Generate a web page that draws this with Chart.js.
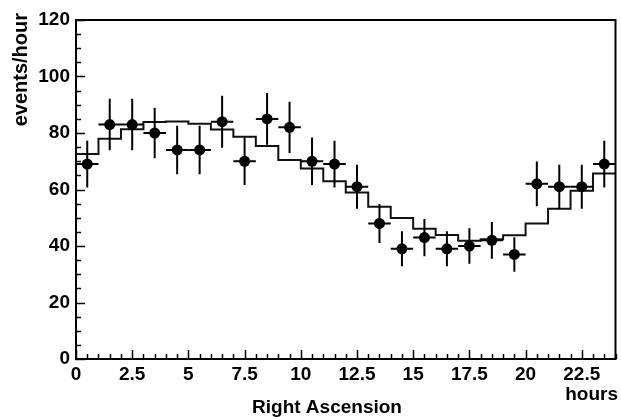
<!DOCTYPE html>
<html>
<head>
<meta charset="utf-8">
<script src="https://cdn.jsdelivr.net/npm/chart.js@4/dist/chart.umd.min.js"></script>
<style>
  html, body { margin: 0; padding: 0; background: #fff; }
  #c { display: block; }
</style>
</head>
<body>
<canvas id="c" width="621" height="419"></canvas>
<script>
// bin centres (hours) and measured rates
var binCenters = [0.5, 1.5, 2.5, 3.5, 4.5, 5.5, 6.5, 7.5, 8.5, 9.5, 10.5, 11.5,
                  12.5, 13.5, 14.5, 15.5, 16.5, 17.5, 18.5, 19.5, 20.5, 21.5, 22.5, 23.5];
var rates = [69, 83, 83, 80, 74, 74, 84, 70, 85, 82, 70, 69,
             61, 48, 39, 43, 39, 40, 42, 37, 62, 61, 61, 69];
var rateErrors = [8.3, 9.1, 9.1, 8.9, 8.6, 8.6, 9.2, 8.4, 9.2, 9.1, 8.4, 8.3,
                  7.8, 6.9, 6.2, 6.6, 6.2, 6.3, 6.5, 6.1, 7.9, 7.8, 7.8, 8.3];
var binHalfWidth = 0.5;

// expected rate histogram (bin edges + contents)
var binEdges = [0, 1, 2, 3, 4, 5, 6, 7, 8, 9, 10, 11, 12,
                13, 14, 15, 16, 17, 18, 19, 20, 21, 22, 23, 24];
var expected = [72.6, 78, 81.3, 83.9, 84.1, 83.3, 81.2, 78.7, 75.4, 70.4, 67.4, 62.9,
                58.9, 53.9, 49.9, 46.1, 43.9, 41.9, 42.4, 43.8, 48, 53.2, 59.6, 65.7];

var xTicks = [0, 2.5, 5, 7.5, 10, 12.5, 15, 17.5, 20, 22.5];
var yTicks = [0, 20, 40, 60, 80, 100, 120];

var xTitle = 'Right Ascension';
var xUnit = 'hours';
var yTitle = 'events/hour';

var FONT = "'Liberation Sans', Arial, Helvetica, sans-serif";

// histogram as a stepped line: one point per left edge + closing point at right edge
var histPoints = expected.map(function (v, i) { return { x: binEdges[i], y: v }; });
histPoints.push({ x: binEdges[binEdges.length - 1], y: expected[expected.length - 1] });

var dataPoints = binCenters.map(function (x, i) { return { x: x, y: rates[i] }; });

// frame, inward ticks, error bars and axis titles (ROOT look)
var rootStyle = {
    id: 'rootStyle',
    beforeDatasetsDraw: function (chart) {
        var ctx = chart.ctx;
        var xs = chart.scales.x, ys = chart.scales.y;
        var a = chart.chartArea;
        ctx.save();
        ctx.strokeStyle = '#000';
        ctx.lineWidth = 1.5;
        // x ticks
        for (var t = 0; t <= 24.001; t += 0.5) {
            var major = Math.abs(t / 2.5 - Math.round(t / 2.5)) < 1e-6;
            var px = Math.round(xs.getPixelForValue(t)) + 0.5;
            ctx.beginPath();
            ctx.moveTo(px, a.bottom);
            ctx.lineTo(px, a.bottom - (major ? 9 : 5));
            ctx.stroke();
        }
        // y ticks
        for (var v = 0; v <= 120; v += 5) {
            var majorY = v % 20 === 0;
            var py = Math.round(ys.getPixelForValue(v)) + 0.5;
            ctx.beginPath();
            ctx.moveTo(a.left, py);
            ctx.lineTo(a.left + (majorY ? 9 : 5), py);
            ctx.stroke();
        }
        ctx.restore();
    },
    afterDatasetsDraw: function (chart) {
        var ctx = chart.ctx;
        var xs = chart.scales.x, ys = chart.scales.y;
        var a = chart.chartArea;
        ctx.save();
        ctx.strokeStyle = '#000';
        ctx.lineWidth = 2;
        binCenters.forEach(function (x, i) {
            var cx = xs.getPixelForValue(x);
            var cy = ys.getPixelForValue(rates[i]);
            ctx.beginPath();
            ctx.moveTo(xs.getPixelForValue(x - binHalfWidth), cy);
            ctx.lineTo(xs.getPixelForValue(x + binHalfWidth), cy);
            ctx.moveTo(cx, ys.getPixelForValue(rates[i] + rateErrors[i]));
            ctx.lineTo(cx, ys.getPixelForValue(rates[i] - rateErrors[i]));
            ctx.stroke();
        });
        // frame
        ctx.lineWidth = 2;
        ctx.strokeRect(a.left, a.top, a.right - a.left, a.bottom - a.top);
        ctx.restore();
    },
    afterDraw: function (chart) {
        var ctx = chart.ctx;
        ctx.save();
        ctx.fillStyle = '#000';
        ctx.font = 'bold 19px ' + FONT;
        ctx.textBaseline = 'middle';
        ctx.textAlign = 'center';
        ctx.fillText(xTitle, 327, 408);
        ctx.textAlign = 'right';
        ctx.fillText(xUnit, 618, 395);
        ctx.font = 'bold 20px ' + FONT;
        ctx.translate(21, 13);
        ctx.rotate(-Math.PI / 2);
        ctx.textAlign = 'right';
        ctx.fillText(yTitle, 0, 0);
        ctx.restore();
    }
};

new Chart(document.getElementById('c'), {
    type: 'scatter',
    data: {
        datasets: [
            {
                type: 'line',
                data: histPoints,
                stepped: 'before',
                borderColor: '#111',
                borderWidth: 2,
                pointRadius: 0,
                fill: false,
                order: 2
            },
            {
                type: 'scatter',
                data: dataPoints,
                pointStyle: 'circle',
                pointRadius: 5.5,
                pointBackgroundColor: '#000',
                pointBorderColor: '#000',
                pointBorderWidth: 0,
                order: 1
            }
        ]
    },
    plugins: [rootStyle],
    options: {
        responsive: false,
        animation: false,
        devicePixelRatio: 1,
        layout: { padding: { top: 20, right: 2, left: 0, bottom: 0 } },
        plugins: { legend: { display: false }, tooltip: { enabled: false } },
        scales: {
            x: {
                type: 'linear',
                min: 0,
                max: 24,
                grid: { display: false, drawTicks: false },
                border: { display: false },
                afterBuildTicks: function (s) { s.ticks = xTicks.map(function (v) { return { value: v }; }); },
                afterFit: function (s) { s.height = 60; },
                ticks: {
                    padding: 4,
                    maxRotation: 0,
                    autoSkip: false,
                    color: '#000',
                    font: { family: FONT, size: 19, weight: 'bold' },
                    callback: function (v) { return String(v); }
                }
            },
            y: {
                type: 'linear',
                min: 0,
                max: 120,
                grid: { display: false, drawTicks: false },
                border: { display: false },
                afterBuildTicks: function (s) { s.ticks = yTicks.map(function (v) { return { value: v }; }); },
                afterFit: function (s) { s.width = 76; },
                ticks: {
                    padding: 6,
                    autoSkip: false,
                    color: '#000',
                    font: { family: FONT, size: 19, weight: 'bold' },
                    callback: function (v) { return String(v); }
                }
            }
        }
    }
});
</script>
</body>
</html>
